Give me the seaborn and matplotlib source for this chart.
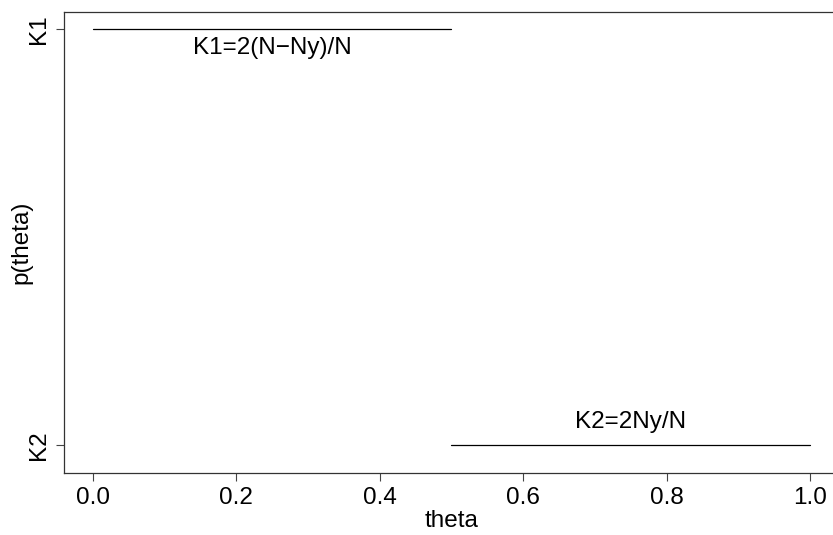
import pandas as pd
import matplotlib
matplotlib.use("Agg")
import matplotlib.pyplot as plt
import seaborn as sns

# step density: two flat pieces
seg_start = [0.0, 0.5]
seg_end = [0.5, 1.0]
seg_level = [1.0, 0.0]
seg_label = ["K1=2(N\u2212Ny)/N", "K2=2Ny/N"]
ytick_pos = [1.0, 0.0]
ytick_lab = ["K1", "K2"]
xticks = [0.0, 0.2, 0.4, 0.6, 0.8, 1.0]

rows = []
for i in range(len(seg_start)):
    rows.append({"theta": seg_start[i], "p": seg_level[i], "seg": i})
    rows.append({"theta": seg_end[i], "p": seg_level[i], "seg": i})
df = pd.DataFrame(rows)

sns.set_style("ticks")
plt.rcParams["font.family"] = ["Liberation Sans", "DejaVu Sans"]
plt.rcParams["text.color"] = "black"
plt.rcParams["axes.labelcolor"] = "black"
plt.rcParams["xtick.color"] = "black"
plt.rcParams["ytick.color"] = "black"

fs = 17.5
fig = plt.figure(figsize=(8.33, 5.35), dpi=100)
ax = fig.add_axes([64 / 833, 62 / 535, (839 - 64) / 833, (473 - 12) / 535])

sns.lineplot(data=df, x="theta", y="p", units="seg", estimator=None,
             color="black", linewidth=0.9, ax=ax)

# labels just inside each piece
ax.text(0.25, seg_level[0] - 0.046, seg_label[0], ha="center", va="center", fontsize=fs)
ax.text(0.75, seg_level[1] + 0.055, seg_label[1], ha="center", va="center", fontsize=fs)

ax.set_xlim(-0.04, 1.04)
ax.set_ylim(-0.067, 1.041)
ax.set_xticks(xticks)
ax.set_xticklabels([f"{v:.1f}" for v in xticks], fontsize=fs)
ax.set_yticks(ytick_pos)
ax.set_yticklabels(ytick_lab, fontsize=fs, rotation=90, va="center")
ax.tick_params(length=6, width=0.8, color="#444444", pad=4)
ax.set_xlabel("theta", fontsize=fs, labelpad=1)
ax.set_ylabel("p(theta)", fontsize=fs, labelpad=-3)
ax.spines["right"].set_visible(False)
for s in ax.spines.values():
    s.set_linewidth(0.9)
    s.set_color("#333333")

fig.savefig("out.png", dpi=100)
